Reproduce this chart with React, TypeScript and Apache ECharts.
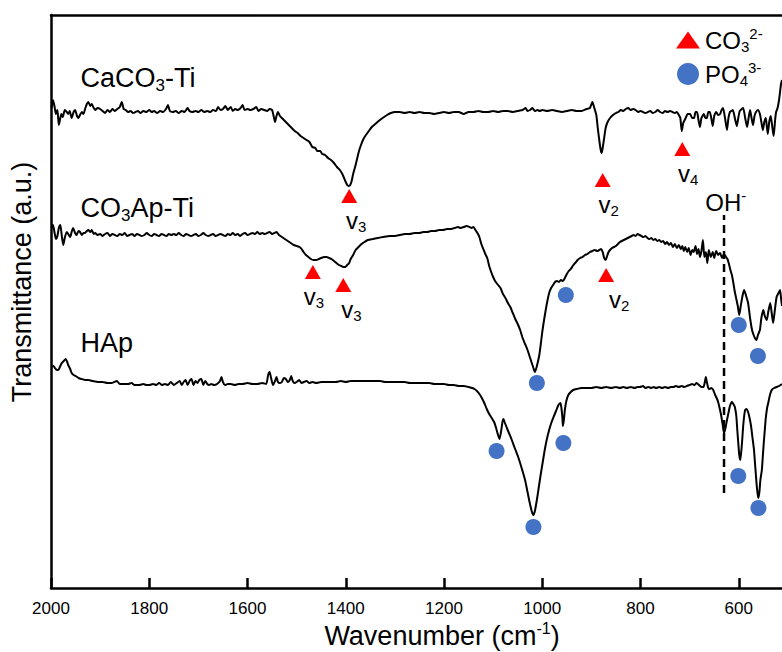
import React, { useEffect, useRef } from 'react';
import * as echarts from 'echarts';

const FONT = '"Liberation Sans", Arial, Helvetica, sans-serif';

// x axis (wavenumber, cm-1), reversed
const wavenumberTicks = [2000, 1800, 1600, 1400, 1200, 1000, 800, 600];

// spectra: [wavenumber, transmittance (a.u., stacked)]
const caco3Ti = [
  [1999,480],[1996,488],[1993,482],[1990,474],[1987,478],[1984,463],[1981,470],[1979,474],[1976,471],[1972,478],[1968,476],[1965,474],[1962,477],[1958,470],[1954,476],[1951,478],[1947,472],[1944,470],[1940,474],[1937,476],[1934,474],[1930,480],[1927,484],[1924,486],[1920,482],[1917,484],[1913,480],[1910,478],[1905,480],[1900,479],[1895,477],[1890,475],[1885,478],[1880,476],[1875,479],[1870,477],[1865,479],[1860,481],[1856,486],[1852,479],[1848,478],[1843,476],[1838,477],[1833,475],[1828,476],[1823,477],[1818,475],[1812,477],[1806,476],[1800,478],[1795,476],[1790,477],[1784,475],[1778,477],[1772,476],[1766,479],[1762,483],[1758,477],[1752,476],[1746,477],[1740,475],[1734,477],[1728,476],[1722,480],[1718,477],[1712,476],[1706,477],[1700,476],[1694,478],[1688,476],[1682,477],[1676,476],[1670,478],[1664,477],[1660,481],[1655,478],[1650,479],[1645,482],[1640,478],[1634,481],[1630,477],[1625,479],[1620,478],[1614,480],[1610,483],[1606,478],[1600,479],[1594,478],[1588,479],[1582,481],[1578,477],[1572,479],[1566,478],[1560,477],[1555,479],[1550,478],[1546,470],[1544,466],[1541,472],[1538,476],[1534,472],[1528,469],[1522,466],[1516,463],[1510,460],[1504,457],[1498,455],[1492,452],[1486,450],[1480,448],[1474,446],[1468,441],[1462,440],[1458,437],[1452,437],[1448,434],[1442,433],[1436,430],[1430,428],[1424,425],[1418,421],[1412,418],[1406,413],[1401,407],[1397,403],[1394,402],[1391,403],[1388,407],[1385,414],[1381,421],[1377,429],[1373,437],[1369,443],[1364,449],[1359,453],[1353,457],[1347,461],[1340,464],[1333,467],[1325,470],[1316,473],[1308,475],[1300,476],[1290,476],[1280,475],[1270,476],[1260,475],[1250,476],[1240,475],[1230,475],[1220,474],[1210,475],[1200,476],[1190,475],[1180,476],[1170,476],[1160,474],[1150,476],[1140,476],[1130,477],[1120,476],[1110,476],[1100,477],[1090,476],[1080,477],[1070,477],[1060,476],[1050,477],[1040,478],[1034,480],[1030,477],[1025,478],[1020,480],[1015,477],[1010,478],[1005,477],[1000,478],[990,477],[980,478],[970,477],[960,476],[950,477],[940,478],[930,477],[920,477],[910,479],[903,480],[898,486],[894,480],[890,473],[887,460],[884,448],[881,438],[879,435],[877,440],[874,450],[871,460],[867,466],[862,470],[856,473],[850,475],[845,476],[840,478],[835,477],[830,479],[825,480],[820,478],[815,479],[810,478],[805,476],[800,477],[795,476],[790,475],[785,476],[780,477],[775,475],[770,476],[765,478],[760,476],[755,475],[750,477],[745,476],[740,477],[735,476],[730,475],[726,476],[722,473],[719,470],[716,457],[713,465],[709,469],[704,474],[699,474],[695,470],[691,470],[688,476],[685,476],[682,468],[679,461],[676,470],[671,474],[668,470],[665,470],[662,476],[659,476],[656,470],[653,462],[650,472],[646,476],[642,473],[638,474],[635,478],[632,480],[628,470],[624,458],[621,470],[618,476],[615,477],[612,478],[608,470],[604,462],[601,470],[598,477],[594,479],[591,480],[587,470],[583,461],[580,470],[577,478],[574,470],[571,463],[568,472],[565,476],[561,478],[557,474],[554,466],[551,458],[548,466],[545,470],[543,462],[541,454],[538,466],[535,472],[532,462],[529,452],[526,468],[524,476],[521,480],[518,488],[516,496],[514,504],[512,508]
];

const co3ApTi = [
  [1999,360],[1996,363],[1993,356],[1990,349],[1987,352],[1984,360],[1981,363],[1978,352],[1975,343],[1972,350],[1968,356],[1965,354],[1961,351],[1958,356],[1955,360],[1951,355],[1948,353],[1944,357],[1941,356],[1937,353],[1934,355],[1931,355],[1927,357],[1924,358],[1920,356],[1917,358],[1913,354],[1910,355],[1906,353],[1900,354],[1895,352],[1890,354],[1885,355],[1880,352],[1875,354],[1870,353],[1865,352],[1860,354],[1855,353],[1850,355],[1845,352],[1840,353],[1835,354],[1830,352],[1825,354],[1820,353],[1815,352],[1810,353],[1805,355],[1800,353],[1795,352],[1790,354],[1785,353],[1780,352],[1775,354],[1770,353],[1765,352],[1760,354],[1755,353],[1750,354],[1745,353],[1740,355],[1735,353],[1730,352],[1725,354],[1720,353],[1715,352],[1710,353],[1705,354],[1700,352],[1695,353],[1690,355],[1685,353],[1680,352],[1675,353],[1670,354],[1665,352],[1660,353],[1655,354],[1650,353],[1645,352],[1640,354],[1635,353],[1630,355],[1625,353],[1620,354],[1615,352],[1610,354],[1605,355],[1600,353],[1595,354],[1590,355],[1585,354],[1580,356],[1575,354],[1570,355],[1565,354],[1560,355],[1555,356],[1550,354],[1545,355],[1541,356],[1536,353],[1530,351],[1524,349],[1518,347],[1512,345],[1506,343],[1500,342],[1494,341],[1490,339],[1486,336],[1481,333],[1476,331],[1471,329],[1466,328],[1460,328],[1455,329],[1450,330],[1444,331],[1439,331],[1434,330],[1429,329],[1424,327],[1419,325],[1414,323],[1409,322],[1405,321],[1401,321],[1397,323],[1393,325],[1390,329],[1385,333],[1380,338],[1374,341],[1368,344],[1362,346],[1355,348],[1345,349],[1335,350],[1324,351],[1310,352],[1300,352],[1290,353],[1280,354],[1270,354],[1260,355],[1250,355],[1242,356],[1234,356],[1226,357],[1218,357],[1210,358],[1202,358],[1194,359],[1186,359],[1178,360],[1172,361],[1166,360],[1160,361],[1154,362],[1148,361],[1144,360],[1140,361],[1136,358],[1132,355],[1128,351],[1124,344],[1120,339],[1116,334],[1112,330],[1108,322],[1104,316],[1100,311],[1096,307],[1090,303],[1085,300],[1080,294],[1075,290],[1070,285],[1065,281],[1060,275],[1055,269],[1050,264],[1045,258],[1040,250],[1035,244],[1030,238],[1026,232],[1022,226],[1018,220],[1015,216],[1012,220],[1009,226],[1006,233],[1003,244],[1000,256],[997,266],[994,275],[990,286],[986,295],[982,300],[978,303],[974,306],[970,307],[966,306],[962,308],[958,307],[954,310],[950,314],[946,317],[942,319],[938,322],[933,325],[928,328],[923,330],[918,331],[913,333],[908,334],[903,336],[898,337],[893,338],[888,337],[884,338],[880,339],[877,336],[874,330],[871,328],[868,332],[865,336],[862,338],[858,340],[854,341],[850,342],[846,344],[842,346],[838,347],[834,348],[830,349],[826,350],[822,351],[818,352],[814,353],[810,352],[806,354],[802,353],[798,352],[794,351],[790,352],[786,350],[782,349],[778,350],[774,348],[770,349],[766,347],[762,348],[758,346],[754,347],[750,344],[746,346],[742,343],[738,345],[734,341],[730,344],[726,340],[722,343],[718,339],[715,342],[712,337],[709,341],[705,336],[702,340],[698,333],[695,338],[692,336],[688,342],[685,334],[682,339],[679,331],[676,337],[673,348],[670,331],[667,336],[664,325],[661,338],[657,331],[653,336],[650,330],[646,337],[642,333],[638,335],[634,330],[630,334],[626,331],[623,329],[620,324],[617,318],[614,313],[611,305],[608,296],[605,289],[602,282],[599,273],[596,282],[592,293],[589,298],[585,292],[581,285],[577,270],[573,258],[569,252],[566,249],[564,248],[561,253],[557,258],[554,270],[550,278],[547,272],[543,268],[540,276],[536,285],[533,275],[530,265],[527,276],[523,291],[519,295],[516,298],[514,290],[512,282]
];

const hap = [
  [1999,221],[1995,222],[1992,220],[1988,218],[1985,218],[1982,221],[1978,225],[1974,227],[1970,229],[1967,226],[1965,223],[1961,219],[1958,215],[1954,213],[1950,212],[1944,210],[1938,209],[1930,208],[1924,208],[1915,207],[1904,206],[1895,206],[1885,205],[1876,205],[1866,207],[1860,204],[1850,204],[1843,204],[1836,205],[1830,203],[1820,203],[1812,204],[1806,203],[1800,203],[1792,204],[1786,203],[1780,205],[1774,203],[1768,204],[1762,203],[1756,206],[1750,203],[1744,205],[1738,207],[1734,203],[1730,206],[1726,208],[1722,203],[1718,207],[1714,209],[1710,203],[1706,207],[1702,205],[1698,208],[1694,209],[1690,203],[1686,207],[1682,204],[1678,203],[1674,204],[1668,203],[1662,204],[1656,207],[1653,211],[1650,206],[1646,203],[1640,204],[1634,204],[1626,203],[1618,204],[1610,204],[1600,205],[1590,204],[1580,204],[1570,205],[1562,204],[1558,213],[1555,216],[1552,210],[1548,203],[1544,207],[1541,211],[1538,206],[1534,205],[1530,206],[1526,210],[1522,209],[1518,206],[1514,208],[1511,212],[1508,207],[1504,205],[1500,206],[1495,208],[1490,205],[1485,206],[1480,207],[1474,205],[1468,206],[1460,205],[1450,206],[1440,206],[1430,206],[1420,206],[1410,207],[1400,206],[1390,207],[1380,207],[1370,207],[1360,207],[1350,207],[1340,207],[1330,207],[1320,206],[1310,206],[1300,206],[1290,206],[1280,206],[1270,205],[1260,205],[1250,205],[1240,205],[1230,205],[1220,204],[1210,204],[1200,204],[1190,203],[1180,203],[1170,202],[1160,202],[1150,201],[1143,200],[1138,199],[1133,197],[1128,194],[1123,190],[1118,185],[1113,179],[1108,174],[1103,170],[1098,166],[1094,160],[1090,153],[1087,149],[1084,156],[1081,166],[1079,169],[1076,165],[1072,160],[1067,154],[1062,148],[1056,140],[1049,131],[1042,120],[1035,108],[1030,96],[1025,84],[1021,76],[1018,73],[1015,77],[1011,88],[1007,101],[1003,114],[999,126],[995,138],[991,148],[986,158],[981,166],[977,171],[972,177],[967,183],[963,185],[961,180],[959,170],[958,162],[956,168],[954,178],[951,187],[947,193],[942,196],[937,198],[930,199],[920,200],[910,200],[900,200],[890,201],[880,200],[870,201],[860,200],[850,201],[842,200],[835,201],[828,200],[820,201],[812,200],[806,201],[801,201],[795,202],[790,200],[784,201],[778,200],[774,201],[768,200],[762,201],[756,200],[750,201],[744,200],[738,201],[733,201],[728,202],[722,201],[716,202],[711,201],[706,202],[700,203],[695,204],[690,203],[686,205],[681,203],[676,201],[672,201],[669,206],[667,211],[665,206],[662,200],[659,199],[656,200],[652,198],[648,193],[645,190],[642,186],[639,180],[636,173],[633,164],[630,155],[627,160],[624,168],[621,175],[618,182],[614,186],[611,184],[608,181],[605,172],[603,158],[601,145],[599,133],[597,128],[595,136],[593,148],[591,162],[589,172],[587,178],[584,179],[581,176],[578,170],[575,162],[572,150],[569,138],[567,125],[565,112],[563,100],[561,92],[560,90],[558,96],[556,108],[553,118],[551,132],[549,146],[547,158],[545,170],[542,181],[540,185],[537,192],[533,198],[528,200],[523,201],[518,202],[512,204]
];

// band assignments
const carbonatePeaks = [[1393,392],[877,408],[715,439],[1467,316],[1405,303],[870,313]];
const carbonateModes = ['v3','v2','v4','v3','v3','v2'];
const phosphatePeaks = [[952,293],[1011,205],[600,263],[561,232],[1093,137],[957,145],[1018,61],[601,112],[560,80]];
const hydroxylBand = [[630,95],[630,373]];

const sampleNames = ['CaCO3-Ti', 'CO3Ap-Ti', 'HAp'];
const legendNames = ['CO3', 'PO4'];
const legendCharges = ['2-', '3-'];

const chem = (s: string) => '{m|' + s.replace(/(\d+)/g, '}{s|$1}{m|') + '}';

const rich = (main: number, sub: number, sup: number) => ({
  m: { fontSize: main, lineHeight: main + 4, fontFamily: FONT, color: '#000' },
  s: { fontSize: sub, lineHeight: 12, verticalAlign: 'bottom', fontFamily: FONT, color: '#000' },
  p: { fontSize: sup, lineHeight: 20, verticalAlign: 'top', fontFamily: FONT, color: '#000' },
});

export default function App() {
  const ref = useRef<HTMLDivElement>(null);
  useEffect(() => {
    if (!ref.current) return;
    const chart = echarts.init(ref.current, null, { renderer: 'svg' });
    const labelOffsets = [[7, 0], [6, 0], [6, 0], [1, 0], [8, 0], [13, 0]];
    const nameAnchors = [[1941, 510], [1941, 380], [1941, 245]];
    const option: any = {
      animation: false,
      backgroundColor: '#fff',
      grid: { left: 51, right: 0, top: 15, bottom: 64 },
      xAxis: [
        {
          type: 'value', min: 512, max: 2000, inverse: true,
          axisLine: { show: true, onZero: false, lineStyle: { color: '#000', width: 2.5 } },
          axisTick: { show: true, inside: true, length: 10, lineStyle: { color: '#000', width: 2.5 }, customValues: wavenumberTicks },
          axisLabel: {
            show: true, margin: 12, fontSize: 17, fontFamily: FONT, color: '#000',
            customValues: wavenumberTicks, formatter: (v: number) => String(v),
          },
          splitLine: { show: false },
        },
        {
          type: 'value', position: 'top', min: 512, max: 2000, inverse: true,
          axisLine: { show: true, onZero: false, lineStyle: { color: '#000', width: 2.5 } },
          axisTick: { show: false }, axisLabel: { show: false }, splitLine: { show: false },
        },
      ],
      yAxis: {
        type: 'value', min: 0, max: 573,
        axisLine: { show: true, onZero: false, lineStyle: { color: '#000', width: 2.5 } },
        axisTick: { show: false }, axisLabel: { show: false }, splitLine: { show: false },
      },
      legend: {
        data: [
          { name: legendNames[0], icon: 'path://M0,14L10,0L20,14Z' },
          { name: legendNames[1], icon: 'circle' },
        ],
        orient: 'vertical', left: 671, top: 21,
        itemWidth: 24, itemHeight: 22, itemGap: 6,
        formatter: (n: string) => chem(n) + '{p|' + legendCharges[legendNames.indexOf(n)] + '}',
        textStyle: { color: '#000', rich: rich(24, 15, 15) },
        selectedMode: false,
      },
      graphic: [
        {
          type: 'text', x: 22, y: 282, rotation: Math.PI / 2,
          style: { text: 'Transmittance (a.u.)', fontSize: 27, fontFamily: FONT, fill: '#000', align: 'center', verticalAlign: 'middle' },
        },
        {
          type: 'text', x: 442, y: 636,
          style: {
            text: '{m|Wavenumber (cm}{p|-1}{m|)}', align: 'center', verticalAlign: 'middle',
            rich: {
              m: { fontSize: 27, lineHeight: 32, fontFamily: FONT, fill: '#000' },
              p: { fontSize: 16, lineHeight: 22, verticalAlign: 'top', fontFamily: FONT, fill: '#000' },
            },
          },
        },
      ],
      series: [
        { name: 'CaCO3-Ti', type: 'line', data: caco3Ti, showSymbol: false, smooth: 0.2, lineStyle: { color: '#000', width: 2 }, z: 2 },
        { name: 'CO3Ap-Ti', type: 'line', data: co3ApTi, showSymbol: false, smooth: 0.2, lineStyle: { color: '#000', width: 2 }, z: 2 },
        { name: 'HAp', type: 'line', data: hap, showSymbol: false, smooth: 0.2, lineStyle: { color: '#000', width: 2 }, z: 2 },
        {
          name: 'OH', type: 'line', data: hydroxylBand, showSymbol: false,
          lineStyle: { color: '#000', width: 2.5, type: [8, 5] }, z: 3,
        },
        {
          name: 'OH label', type: 'scatter', data: [[669, 386]], symbolSize: 1,
          itemStyle: { color: 'rgba(0,0,0,0)', opacity: 1 },
          label: { show: true, color: '#000', position: 'right', distance: 0, formatter: '{m|OH}{p|-}', rich: rich(24, 15, 15) },
          z: 5,
        },
        {
          name: 'names', type: 'scatter', symbolSize: 1, itemStyle: { color: 'rgba(0,0,0,0)', opacity: 1 },
          data: sampleNames.map((n, i) => ({ value: nameAnchors[i], name: n })),
          label: { show: true, color: '#000', position: 'right', distance: 0, formatter: (p: any) => chem(p.name), rich: rich(27, 17, 15) },
          z: 5,
        },
        {
          name: 'CO3', type: 'scatter', symbol: 'triangle', symbolSize: [16, 14],
          itemStyle: { color: '#ff0000', opacity: 1 },
          data: carbonatePeaks.map((v, i) => ({
            value: v, name: carbonateModes[i],
            label: { offset: labelOffsets[i] },
          })),
          label: { show: true, color: '#000', position: 'bottom', distance: 3, formatter: (p: any) => chem(p.name), rich: rich(24, 15, 15) },
          z: 6,
        },
        {
          name: 'PO4', type: 'scatter', symbol: 'circle', symbolSize: 16,
          itemStyle: { color: '#4472c4', opacity: 1 },
          data: phosphatePeaks,
          z: 6,
        },
      ],
    };
    chart.setOption(option);
    return () => chart.dispose();
  }, []);
  return <div ref={ref} style={{ position: 'absolute', left: 0, top: 0, width: 782, height: 652 }} />;
}
